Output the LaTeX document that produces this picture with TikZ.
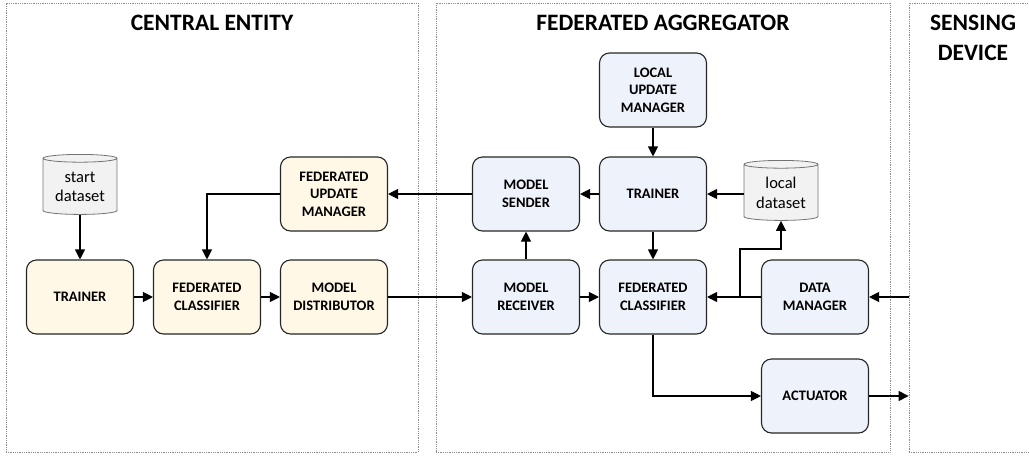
\documentclass[tikz,border=0pt]{standalone}
\usepackage{fontspec}
\setmainfont{Carlito}
\usetikzlibrary{arrows.meta,shapes.geometric}
\definecolor{cecream}{HTML}{FFF8E6}
\definecolor{fablue}{HTML}{EEF2FA}
\definecolor{dbgray}{HTML}{F2F2F2}
\definecolor{zonegray}{HTML}{8C8C8C}

\begin{document}
\begin{tikzpicture}[
    x=1pt, y=-1pt,
    zone/.style={draw=zonegray, densely dotted, line width=0.8pt, inner sep=0pt},
    zonelbl/.style={font=\fontsize{23.5}{30}\selectfont\bfseries, align=center},
    blk/.style={draw=black!85, line width=1.1pt, rounded corners=10pt,
                minimum width=107pt, minimum height=74pt, inner sep=2pt,
                align=center, font=\fontsize{14.5}{17.5}\selectfont\bfseries},
    central/.style={blk, fill=cecream},
    aggreg/.style={blk, fill=fablue},
    store/.style={cylinder, shape border rotate=90, aspect=0.15,
                  draw=black!55, fill=dbgray, line width=0.8pt,
                  minimum width=74pt, minimum height=60pt, inner sep=1pt,
                  align=center, font=\fontsize{16.5}{19.5}\selectfont},
    flow/.style={-{Triangle[length=10pt,width=10pt]}, line width=1.1pt},
]
\useasboundingbox (0,0) rectangle (1029,456);
\clip (0,0) rectangle (1029,456);

% Zones
\node[zone, minimum width=412pt, minimum height=449pt] (cezone) at (212,227.5) {};
\node[zone, minimum width=454pt, minimum height=449pt] (fazone) at (663,227.5) {};
\node[zone, minimum width=140pt, minimum height=449pt] (sdzone) at (979,227.5) {};
\node[zonelbl] (celbl) at (212,23) {CENTRAL ENTITY};
\node[zonelbl] (falbl) at (663,23) {FEDERATED AGGREGATOR};
\node[zonelbl] (sdlbl) at (973,38) {SENSING\\DEVICE};

% Central entity
\node[store] (startdb) at (80,187) {start\\dataset};
\node[central] (cetrain) at (80,297) {TRAINER};
\node[central] (ceclass) at (207,297) {FEDERATED\\CLASSIFIER};
\node[central] (cedist) at (334,297) {MODEL\\DISTRIBUTOR};
\node[central] (cefum) at (334,194) {FEDERATED\\UPDATE\\MANAGER};

% Federated aggregator
\node[aggreg] (falum) at (653,90) {LOCAL\\UPDATE\\MANAGER};
\node[aggreg] (fasend) at (526,194) {MODEL\\SENDER};
\node[aggreg] (fatrain) at (653,194) {TRAINER};
\node[store] (localdb) at (781,193) {local\\dataset};
\node[aggreg] (farecv) at (526,297) {MODEL\\RECEIVER};
\node[aggreg] (faclass) at (653,297) {FEDERATED\\CLASSIFIER};
\node[aggreg] (fadata) at (815,297) {DATA\\MANAGER};
\node[aggreg] (faact) at (815,396) {ACTUATOR};

% Connectors
\draw[flow] (startdb) -- (cetrain);
\draw[flow] (cetrain) -- (ceclass);
\draw[flow] (ceclass) -- (cedist);
\draw[flow] (cefum.west) -| (ceclass.north);
\draw[flow] (cedist) -- (farecv);
\draw[flow] (fasend) -- (cefum);
\draw[flow] (falum) -- (fatrain);
\draw[flow] (fatrain) -- (fasend);
\draw[flow] (localdb.west |- fatrain) -- (fatrain);
\draw[flow] (farecv) -- (fasend);
\draw[flow] (fatrain) -- (faclass);
\draw[flow] (farecv) -- (faclass);
\draw[flow] (fadata) -- (faclass);
\coordinate (split) at (740,297);
\coordinate (bend) at (740,249);
\draw[flow] (split) -- (bend) -| (localdb);
\draw[flow] (faclass) |- (faact);
\draw[flow] (faact) -- (faact -| sdzone.west);
\draw[flow] (fadata -| sdzone.west) -- (fadata);

\end{tikzpicture}
\end{document}
